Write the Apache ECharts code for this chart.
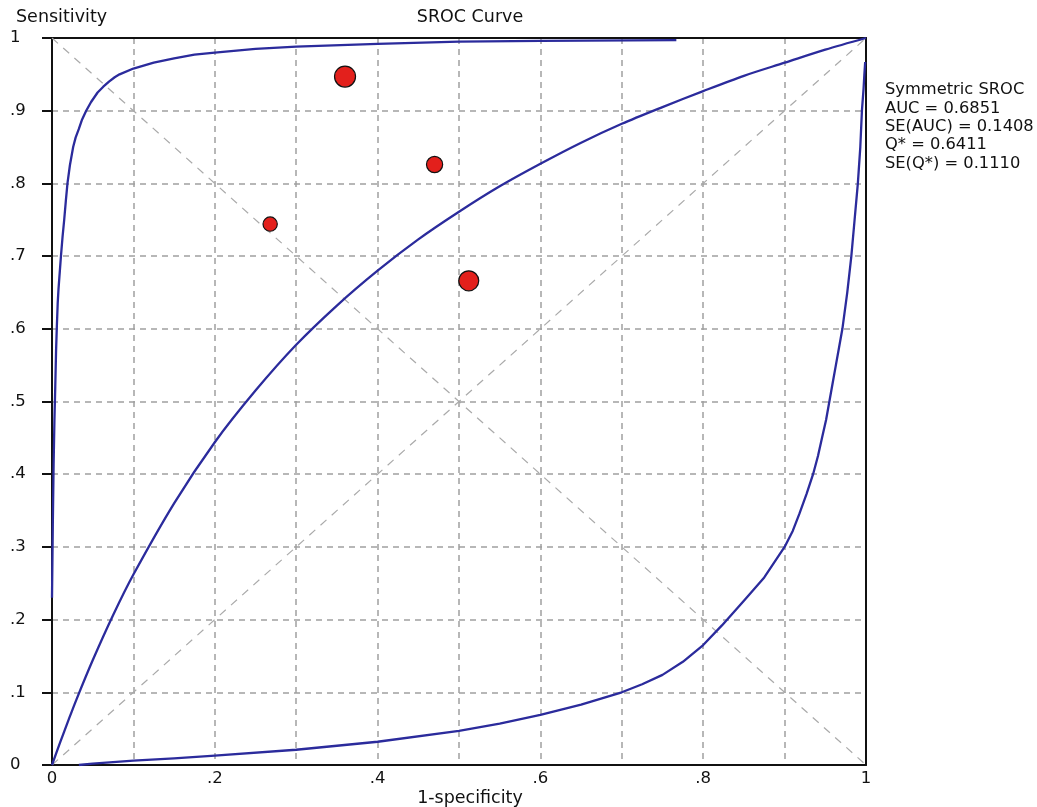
<!DOCTYPE html>
<html>
<head>
<meta charset="utf-8">
<script src="https://cdn.jsdelivr.net/npm/echarts@6/dist/echarts.min.js"></script>
<style>
html,body{margin:0;padding:0;background:#fff;}
#chart{width:1037px;height:807px;}
</style>
</head>
<body>
<div id="chart"></div>
<script>
// ---- data ----
const chartTitle = 'SROC Curve';
const xAxisName = '1-specificity';
const yAxisName = 'Sensitivity';
const xTickValues = [0, 0.2, 0.4, 0.6, 0.8, 1];
const xTickLabels = ['0', '.2', '.4', '.6', '.8', '1'];
const yTickValues = [0, 0.1, 0.2, 0.3, 0.4, 0.5, 0.6, 0.7, 0.8, 0.9, 1];
const yTickLabels = ['0', '.1', '.2', '.3', '.4', '.5', '.6', '.7', '.8', '.9', '1'];
const statsLines = ['Symmetric SROC', 'AUC = 0.6851', 'SE(AUC) = 0.1408', 'Q* = 0.6411', 'SE(Q*) = 0.1110'];

// individual studies (1-specificity, sensitivity, relative weight)
const studyFPR = [0.360, 0.470, 0.268, 0.512];
const studySens = [0.947, 0.826, 0.744, 0.666];
const studyWeight = [1.0, 0.77, 0.68, 0.95];

// symmetric SROC curve
const srocFPR = [0, 0.01, 0.02, 0.03, 0.05, 0.075, 0.1, 0.15, 0.2, 0.25, 0.3, 0.35, 0.4, 0.45, 0.5, 0.55, 0.6, 0.65, 0.7, 0.75, 0.8, 0.85, 0.9, 0.95, 1];
const srocSens = [0, 0.031, 0.061, 0.090, 0.144, 0.206, 0.262, 0.360, 0.444, 0.515, 0.578, 0.632, 0.680, 0.723, 0.761, 0.796, 0.827, 0.856, 0.882, 0.905, 0.927, 0.948, 0.966, 0.984, 1];

// upper confidence curve
const upperFPR = [0, 0.001, 0.002, 0.003, 0.004, 0.005, 0.006, 0.007, 0.008, 0.009, 0.011, 0.013, 0.015, 0.017, 0.019, 0.022, 0.026, 0.029, 0.033, 0.037, 0.042, 0.048, 0.056, 0.063, 0.07, 0.077, 0.083, 0.1, 0.125, 0.15, 0.175, 0.2, 0.25, 0.3, 0.4, 0.5, 0.6, 0.767];
const upperSens = [0.23, 0.33, 0.415, 0.475, 0.52, 0.57, 0.605, 0.635, 0.655, 0.67, 0.70, 0.727, 0.75, 0.776, 0.80, 0.825, 0.85, 0.863, 0.875, 0.888, 0.90, 0.912, 0.925, 0.933, 0.94, 0.946, 0.95, 0.958, 0.966, 0.972, 0.977, 0.980, 0.985, 0.988, 0.992, 0.995, 0.996, 0.997];

// lower confidence curve
const lowerFPR = [0.033, 0.05, 0.1, 0.15, 0.2, 0.3, 0.4, 0.5, 0.55, 0.6, 0.65, 0.7, 0.725, 0.75, 0.775, 0.8, 0.823, 0.85, 0.875, 0.9, 0.91, 0.918, 0.927, 0.935, 0.941, 0.946, 0.951, 0.955, 0.959, 0.963, 0.967, 0.971, 0.977, 0.982, 0.986, 0.99, 0.993, 0.995, 0.997, 0.998, 0.999];
const lowerSens = [0.0, 0.002, 0.006, 0.009, 0.013, 0.021, 0.032, 0.047, 0.057, 0.069, 0.083, 0.10, 0.111, 0.124, 0.142, 0.165, 0.192, 0.226, 0.258, 0.30, 0.322, 0.345, 0.373, 0.40, 0.425, 0.45, 0.475, 0.50, 0.525, 0.55, 0.575, 0.60, 0.65, 0.70, 0.75, 0.80, 0.85, 0.90, 0.93, 0.95, 0.967];

// reference diagonals
const diagX = [0, 1];
const diagY = [0, 1];
const antiDiagY = [1, 0];

// ---- build ----
const zip = (a, b) => a.map((v, i) => [v, b[i]]);
const FONT = 'DejaVu Sans';
const curveColor = '#2b2b9c';
const gridColor = '#a0a0a0';
const frame = {color: '#111', width: 2};
const gridLine = {show: true, showMinLine: false, showMaxLine: false,
  lineStyle: {color: gridColor, width: 1.5, type: [6, 5]}};

function labelFor(values, labels, v) {
  for (let i = 0; i < values.length; i++) {
    if (Math.abs(values[i] - v) < 1e-6) return labels[i];
  }
  return '';
}

const chart = echarts.init(document.getElementById('chart'), null, {renderer: 'canvas'});

const option = {
  animation: false,
  backgroundColor: '#ffffff',
  grid: {
    left: 52, right: 171, top: 38, bottom: 42,
    containLabel: false,
    outerBoundsMode: 'none',
    show: false
  },
  xAxis: [
    {
      type: 'value', min: 0, max: 1, interval: 0.1, position: 'bottom',
      axisLine: {show: true, onZero: false, lineStyle: frame},
      axisTick: {show: false},
      axisLabel: {
        margin: 5, color: '#111', fontFamily: FONT, fontSize: 16.5,
        formatter: v => labelFor(xTickValues, xTickLabels, v)
      },
      splitLine: gridLine
    },
    {
      type: 'value', min: 0, max: 1, interval: 0.1, position: 'top',
      axisLine: {show: true, onZero: false, lineStyle: frame},
      axisTick: {show: false}, axisLabel: {show: false}, splitLine: {show: false}
    }
  ],
  yAxis: [
    {
      type: 'value', min: 0, max: 1, interval: 0.1, position: 'left',
      axisLine: {show: true, onZero: false, lineStyle: frame},
      axisTick: {show: true, inside: false, length: 10, lineStyle: frame},
      axisLabel: {
        margin: 42, align: 'left', color: '#111', fontFamily: FONT, fontSize: 16.5,
        formatter: v => labelFor(yTickValues, yTickLabels, v)
      },
      splitLine: gridLine
    },
    {
      type: 'value', min: 0, max: 1, interval: 0.1, position: 'right',
      axisLine: {show: true, onZero: false, lineStyle: frame},
      axisTick: {show: false}, axisLabel: {show: false}, splitLine: {show: false}
    }
  ],
  series: [
    {
      type: 'line', data: zip(diagX, diagY), symbol: 'none', silent: true,
      lineStyle: {color: '#aaaaaa', width: 1.2, type: [8, 7]}, z: 1
    },
    {
      type: 'line', data: zip(diagX, antiDiagY), symbol: 'none', silent: true,
      lineStyle: {color: '#aaaaaa', width: 1.2, type: [8, 7]}, z: 1
    },
    {
      type: 'line', data: zip(srocFPR, srocSens), symbol: 'none', smooth: 0.3,
      lineStyle: {color: curveColor, width: 2.3}, z: 3
    },
    {
      type: 'line', data: zip(upperFPR, upperSens), symbol: 'none',
      lineStyle: {color: curveColor, width: 2.3, join: 'round'}, z: 3
    },
    {
      type: 'line', data: zip(lowerFPR, lowerSens), symbol: 'none',
      lineStyle: {color: curveColor, width: 2.3, join: 'round'}, z: 3
    },
    {
      type: 'scatter',
      data: studyFPR.map((x, i) => [x, studySens[i], studyWeight[i]]),
      symbol: 'circle',
      symbolSize: v => 21 * v[2],
      itemStyle: {color: '#e3201c', borderColor: '#111', borderWidth: 1.2, opacity: 1},
      z: 5
    }
  ],
  graphic: [
    {type: 'text', left: 16, top: 8, silent: true,
     style: {text: yAxisName, fontFamily: FONT, fontSize: 17.5, fill: '#111'}},
    {type: 'text', x: 470, y: 8, silent: true,
     style: {text: chartTitle, fontFamily: FONT, fontSize: 17.5, fill: '#111', textAlign: 'center'}},
    {type: 'text', x: 470, y: 789, silent: true,
     style: {text: xAxisName, fontFamily: FONT, fontSize: 17.5, fill: '#111', textAlign: 'center'}},
    {type: 'text', x: 885, y: 81, silent: true,
     style: {text: statsLines.join('\n'), fontFamily: FONT, fontSize: 16.3, lineHeight: 18.3, fill: '#111'}}
  ]
};

chart.setOption(option);
</script>
</body>
</html>
